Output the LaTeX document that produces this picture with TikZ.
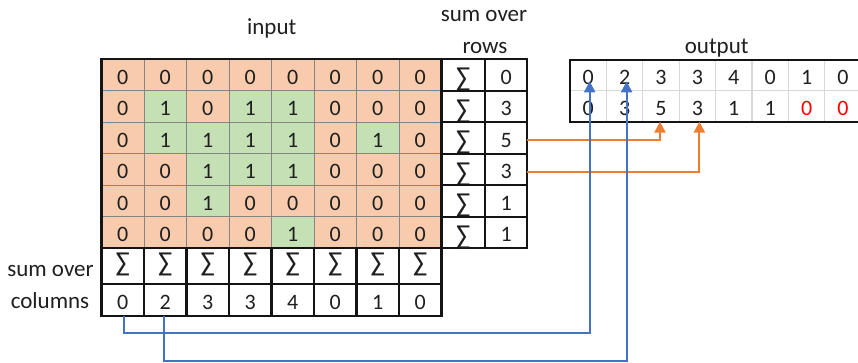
\documentclass[tikz,border=0pt]{standalone}
\usepackage{fontspec}
\usepackage{graphicx}
\setmainfont{Carlito}
\usetikzlibrary{arrows.meta}

\definecolor{cellorange}{HTML}{F8CBAD}
\definecolor{cellgreen}{HTML}{C5E0B4}
\definecolor{linkblue}{HTML}{4472C4}
\definecolor{linkorange}{HTML}{ED7D31}
\definecolor{gridgray}{HTML}{858585}
\definecolor{softgray}{HTML}{D9D9D9}
\definecolor{ink}{HTML}{141414}
\definecolor{digit}{HTML}{1F1F1F}
\definecolor{alert}{HTML}{FF0000}

% summation sign, a little larger than the digits and dipping below the baseline
\newcommand{\sumglyph}{\raisebox{-2.4pt}{\scalebox{1.2}[1.25]{∑}}}

\tikzset{
  basecell/.style={inner sep=0pt, outer sep=0pt, anchor=center,
    text height=18.5pt, text depth=0pt, text=digit},
  incell/.style={basecell, draw=gridgray, line width=0.9pt,
    minimum width=42.5pt, minimum height=31.5pt},
  sumcell/.style={basecell, draw=ink, line width=2.2pt,
    minimum height=31.5pt},
  outcell/.style={basecell, draw=softgray, line width=1.3pt,
    minimum width=36.4pt, minimum height=30.85pt},
  sigmarow/.style={text height=4.6pt},
  caption/.style={anchor=base, inner sep=0pt, text=digit,
    font=\fontsize{23}{27}\selectfont},
  frame/.style={draw=ink, line width=2.2pt},
  link/.style={line width=2pt, -{Triangle[length=11pt,width=11pt]}},
}

\begin{document}
\begin{tikzpicture}[x=1pt, y=-1pt, font=\fontsize{22}{26}\selectfont]
  \useasboundingbox (0,0) rectangle (858,363);

  % input grid (6 rows x 8 columns)
  \foreach \row [count=\r] in {
      {0,0,0,0,0,0,0,0},
      {0,1,0,1,1,0,0,0},
      {0,1,1,1,1,0,1,0},
      {0,0,1,1,1,0,0,0},
      {0,0,1,0,0,0,0,0},
      {0,0,0,0,1,0,0,0}} {
    \foreach \v [count=\c] in \row {
      \ifnum\v=1 \def\cellfill{cellgreen}\else\def\cellfill{cellorange}\fi
      \node[incell, fill=\cellfill] (in-\r-\c)
        at ({101.5+42.5*(\c-0.5)}, {59.3+31.5*(\r-0.5)}) {\v};
    }
  }
  \draw[frame] (in-1-1.north west) rectangle (in-6-8.south east);

  % row sums to the right of the grid
  \foreach \s [count=\r] in {0,3,5,3,1,1} {
    \node[sumcell, minimum width=43.3pt] (rs-\r)
      at (463.35, {59.3+31.5*(\r-0.5)}) {\sumglyph};
    \node[sumcell, minimum width=42.3pt] (rv-\r)
      at (506.15, {59.3+31.5*(\r-0.5)}) {\s};
  }

  % column sums below the grid
  \foreach \s [count=\c] in {0,2,3,3,4,0,1,0} {
    \node[sumcell, sigmarow, minimum width=42.5pt, minimum height=36pt] (cs-\c)
      at ({101.5+42.5*(\c-0.5)}, 266.3) {\sumglyph};
    \node[sumcell, minimum width=42.5pt, minimum height=31.4pt] (cv-\c)
      at ({101.5+42.5*(\c-0.5)}, 300) {\s};
  }

  % output table
  \foreach \s [count=\c] in {0,2,3,3,4,0,1,0} {
    \node[outcell] (out-1-\c) at ({570+36.4*(\c-0.5)}, 75.35) {\s};
  }
  \foreach \s [count=\c] in {0,3,5,3,1,1} {
    \node[outcell] (out-2-\c) at ({570+36.4*(\c-0.5)}, 106.2) {\s};
  }
  \foreach \c in {7,8} {
    \node[outcell, text=alert] (out-2-\c) at ({570+36.4*(\c-0.5)}, 106.2) {0};
  }
  \draw[frame] (out-1-1.north west) rectangle (out-2-8.south east);

  % captions
  \node[caption] (cap-input) at (271.7, 35) {input};
  \node[caption] (cap-rows1) at (484, 21.7) {sum over};
  \node[caption] (cap-rows2) at (485, 53.3) {rows};
  \node[caption] (cap-output) at (716.7, 53.3) {output};
  \node[caption] (cap-cols1) at (50.5, 276.7) {sum over};
  \node[caption] (cap-cols2) at (50, 308.3) {columns};

  % row sums feeding the output
  \draw[link, draw=linkorange]
    ([yshift=-2pt]rv-3.east) -| ([xshift=-1pt]out-2-3.south);
  \draw[link, draw=linkorange]
    ([yshift=-2pt]rv-4.east) -| ([xshift=2pt]out-2-4.south);

  % column sums feeding the output
  \draw[link, draw=linkblue]
    ([xshift=1pt]cv-1.south) -- ++(0,17) -| ([xshift=1.5pt, yshift=9.5pt]out-1-1.south);
  \draw[link, draw=linkblue]
    ([xshift=-1pt]cv-2.south) -- ++(0,45) -| ([xshift=2pt, yshift=9.5pt]out-1-2.south);
\end{tikzpicture}
\end{document}
